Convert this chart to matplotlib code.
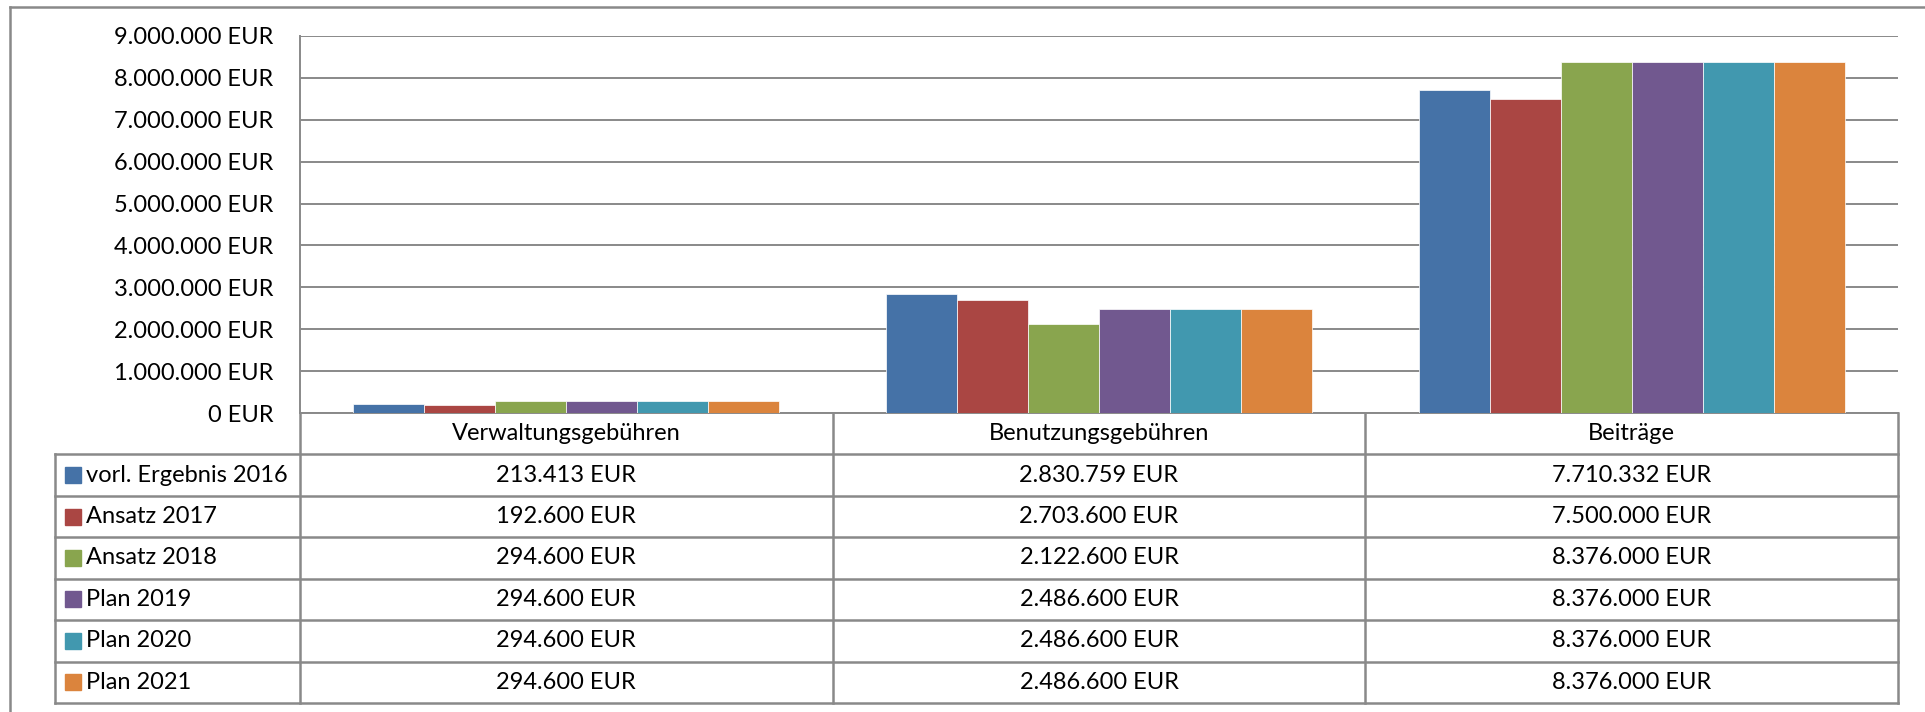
import matplotlib.pyplot as plt
from matplotlib.lines import Line2D
import numpy as np

plt.rcParams['font.family'] = ['Lato', 'DejaVu Sans']

# data
categories = ['Verwaltungsgebühren', 'Benutzungsgebühren', 'Beiträge']
series_names = ['vorl. Ergebnis 2016', 'Ansatz 2017', 'Ansatz 2018',
                'Plan 2019', 'Plan 2020', 'Plan 2021']
ergebnis_2016 = [213413, 2830759, 7710332]
ansatz_2017 = [192600, 2703600, 7500000]
ansatz_2018 = [294600, 2122600, 8376000]
plan_2019 = [294600, 2486600, 8376000]
plan_2020 = [294600, 2486600, 8376000]
plan_2021 = [294600, 2486600, 8376000]
series_values = [ergebnis_2016, ansatz_2017, ansatz_2018, plan_2019, plan_2020, plan_2021]
colors = ['#4572A7', '#AA4643', '#89A54E', '#71588F', '#4198AF', '#DB843D']
yticks = np.arange(0, 9000001, 1000000)


def eur(v):
    return f'{v:,.0f}'.replace(',', '.') + ' EUR'


W, H = 1925, 712
grey = '#898989'
fs = 17

fig = plt.figure(figsize=(W / 100, H / 100), dpi=100)

# chart area
ax = fig.add_axes([300 / W, 1 - 413 / H, 1598 / W, 377 / H])
x = np.arange(len(categories)) + 0.5
bw = 0.1333
for i, (name, vals) in enumerate(zip(series_names, series_values)):
    ax.bar(x + (i - 2.5) * bw, vals, bw, color=colors[i],
           edgecolor='white', linewidth=0.5, zorder=3)

ax.set_xlim(0, 3)
ax.set_ylim(0, 9000000)
ax.set_yticks(yticks)
ax.set_yticklabels([eur(v) for v in yticks], fontsize=fs)
ax.tick_params(axis='y', length=0, pad=19)
ax.set_xticks([])
ax.grid(axis='y', color=grey, linewidth=1.4, zorder=0)
for s in ['top', 'right']:
    ax.spines[s].set_visible(False)
ax.spines['left'].set_color(grey)
ax.spines['left'].set_linewidth(1.4)
ax.spines['bottom'].set_color(grey)
ax.spines['bottom'].set_linewidth(1.4)

# data table under the chart
unit = 1598 / 3
x0 = -(300 - 55) / unit
tab = fig.add_axes([55 / W, 1 - 703 / H, (1898 - 55) / W, (703 - 413) / H])
tab.set_xlim(x0, 3)
tab.set_ylim(7, 0)
tab.axis('off')
nrows = len(series_names) + 1
for r in range(1, nrows + 1):
    tab.plot([x0, 3], [r, r], color=grey, lw=1.8, clip_on=False)
for c in range(len(categories) + 1):
    tab.plot([c, c], [0, nrows], color=grey, lw=1.8, clip_on=False)
tab.plot([x0, x0], [1, nrows], color=grey, lw=1.8, clip_on=False)

for c, cat in enumerate(categories):
    tab.text(c + 0.5, 0.5, cat, ha='center', va='center', fontsize=fs)

for i, (name, vals) in enumerate(zip(series_names, series_values)):
    y = i + 1.5
    tab.plot(x0 + 17.5 / unit, y, marker='s', markersize=11, color=colors[i],
             linestyle='none', clip_on=False)
    tab.text(x0 + 31 / unit, y, name, ha='left', va='center', fontsize=fs)
    for c, v in enumerate(vals):
        tab.text(c + 0.5, y, eur(v), ha='center', va='center', fontsize=fs)

# outer chart frame (cropped)
fig.add_artist(Line2D([10 / W, 10 / W], [0, 1 - 7 / H], color=grey, lw=1.8))
fig.add_artist(Line2D([10 / W, 1], [1 - 7 / H, 1 - 7 / H], color=grey, lw=1.8))

fig.savefig('out.png', dpi=100)
